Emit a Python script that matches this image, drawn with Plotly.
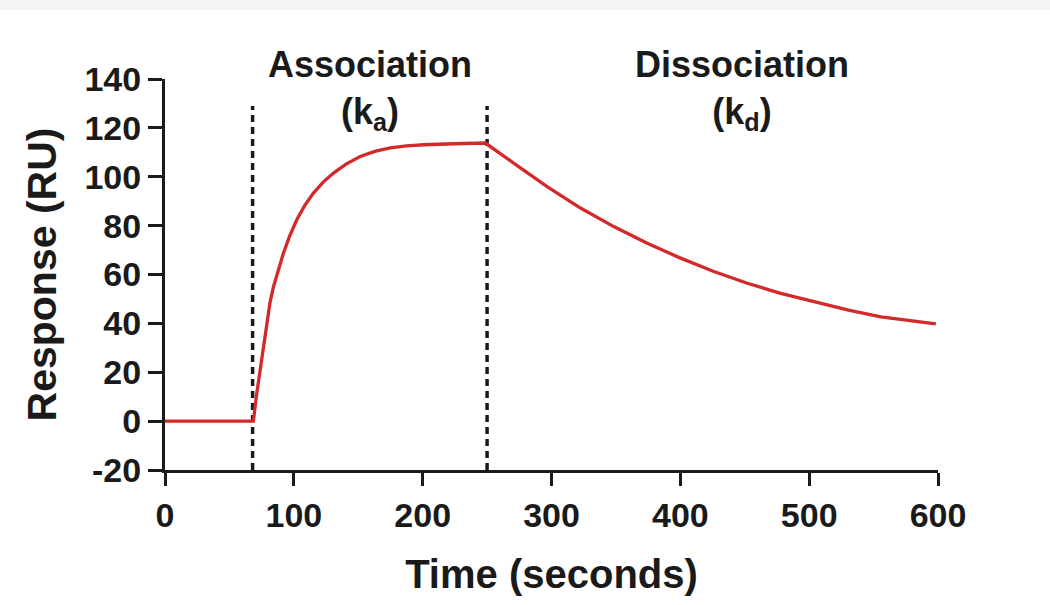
import plotly.graph_objects as go

# Sensorgram values (time in s, response in RU)
time_s = [0, 68.6, 71.0, 73.8, 76.5, 79.0, 81.5, 84.2, 87.8, 91.9, 96.8, 102.3, 108.5, 115.2,
          122.8, 130.8, 140.5, 151.5, 162.8, 174.8, 187.5, 200.7, 224.0, 248.6,
          270.6, 296.6, 322.5, 348.3, 374.3, 400.2, 426.0, 452.0, 477.9, 503.7, 529.7, 555.6, 598.3]
response_ru = [0, 0, 10.5, 20.9, 31.5, 41.4, 48.5, 55.0, 62.0, 68.7, 75.8, 82.4, 88.3, 93.3,
               97.8, 101.5, 105.2, 108.3, 110.4, 111.8, 112.6, 113.1, 113.5, 113.8,
               105.6, 96.0, 87.2, 79.6, 72.8, 66.7, 61.2, 56.4, 52.3, 48.9, 45.5, 42.7, 39.8]

phase_boundaries = [68, 250]
phase_top = 129
phase_labels = ["Association<br>(k<sub>a</sub>)", "Dissociation<br>(k<sub>d</sub>)"]
phase_label_x = [159, 448]

x_ticks = [0, 100, 200, 300, 400, 500, 600]
y_ticks = [-20, 0, 20, 40, 60, 80, 100, 120, 140]
y_tick_text = ["-20", "0", "20", "40", "60", "80", "100", "120", "140"]

FONT = "Liberation Sans"
INK = "#1a1a1a"

fig = go.Figure()

for xb in phase_boundaries:
    fig.add_trace(go.Scatter(
        x=[xb, xb], y=[-20, phase_top], mode="lines",
        line=dict(color=INK, width=3.5, dash="7px,5px"),
        hoverinfo="skip", showlegend=False))

fig.add_trace(go.Scatter(
    x=time_s, y=response_ru, mode="lines",
    line=dict(color="#d3292b", width=3.3),
    showlegend=False))

for lbl, lx in zip(phase_labels, phase_label_x):
    fig.add_annotation(
        x=lx, y=1.095, xref="x", yref="paper", yanchor="top",
        text=lbl, showarrow=False,
        font=dict(family=FONT, size=36, color=INK, weight="bold"),
        align="center")

# light band at the top of the picture
fig.add_shape(type="rect", xref="paper", yref="paper",
              x0=-0.3, x1=1.2, y0=1.1765, y1=1.25,
              fillcolor="#f2f4f6", line=dict(width=0), layer="below")

fig.update_layout(
    width=1050, height=605,
    margin=dict(l=165, r=112, t=79, b=135),
    paper_bgcolor="white", plot_bgcolor="white",
    font=dict(family=FONT, color=INK),
    xaxis=dict(
        range=[0, 600], tickvals=x_ticks, ticks="outside", ticklen=13, tickwidth=3,
        tickcolor=INK, showline=True, linewidth=3, linecolor=INK,
        showgrid=False, zeroline=False,
        tickfont=dict(family=FONT, size=34, color=INK, weight="bold"),
        title=dict(text="Time (seconds)", standoff=28,
                   font=dict(family=FONT, size=40, color=INK, weight="bold"))),
    yaxis=dict(
        range=[-20, 140], tickvals=y_ticks, ticktext=y_tick_text,
        ticks="outside", ticklen=14, tickwidth=3,
        tickcolor=INK, showline=True, linewidth=3, linecolor=INK,
        showgrid=False, zeroline=False,
        tickfont=dict(family=FONT, size=34, color=INK, weight="bold"),
        title=dict(text="Response (RU)", standoff=16,
                   font=dict(family=FONT, size=41, color=INK, weight="bold"))),
)

fig.write_html("out.html")
